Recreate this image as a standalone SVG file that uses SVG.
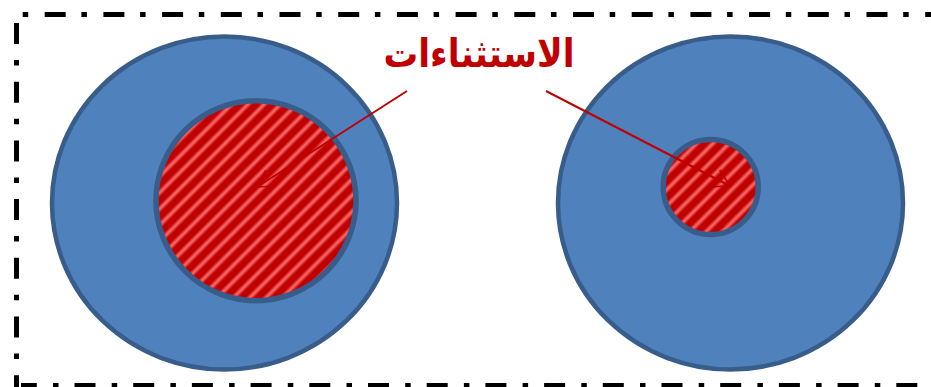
<svg xmlns="http://www.w3.org/2000/svg" width="931" height="387" viewBox="0 0 931 387">
  <style>
    .frame { fill: none; stroke: #000; stroke-width: 5; }
    .outer { fill: #4F81BD; stroke: #385D8A; stroke-width: 4.5; }
    .inner { fill: url(#hatch); stroke: #385D8A; stroke-width: 5.5; }
    .arrow { fill: none; stroke: #C00000; stroke-width: 2; marker-end: url(#head); }
    .label { font-family: "DejaVu Sans", sans-serif; font-weight: bold; font-size: 39px; fill: #C00000; }
  </style>
  <defs>
    <linearGradient id="stripe" x1="0" y1="0" x2="1" y2="0">
      <stop offset="0" stop-color="#C00000"/>
      <stop offset="0.38" stop-color="#C00000"/>
      <stop offset="0.66" stop-color="#FF7373"/>
      <stop offset="0.94" stop-color="#C00000"/>
      <stop offset="1" stop-color="#C00000"/>
    </linearGradient>
    <pattern id="hatch" patternUnits="userSpaceOnUse" width="11.5" height="11.5" patternTransform="rotate(45)">
      <rect x="0" y="0" width="11.5" height="11.5" fill="url(#stripe)"/>
    </pattern>
    <marker id="head" markerUnits="userSpaceOnUse" markerWidth="24" markerHeight="24" viewBox="-20 -12 24 24" refX="0" refY="0" orient="auto">
      <path d="M -16.5 -9.5 L 0 0 L -16.5 9.5" fill="none" stroke="#C00000" stroke-width="1.5"/>
    </marker>
  </defs>

  <g id="frame">
    <line class="frame" x1="16.5" y1="14.5" x2="940" y2="14.5" stroke-dasharray="5.5 16.5 21 15.7" stroke-dashoffset="52.5"/>
    <line class="frame" x1="16.5" y1="14.5" x2="16.5" y2="388" stroke-dasharray="21 16 5.5 16.2" stroke-dashoffset="50.2"/>
    <line class="frame" x1="21" y1="385.5" x2="940" y2="385.5" stroke-dasharray="21 16.2 5.5 16" stroke-dashoffset="5.2"/>
  </g>

  <g id="left-set">
    <ellipse class="outer" cx="224.5" cy="203" rx="172.5" ry="166.5"/>
  </g>
  <g id="left-exceptions">
    <circle class="inner" cx="256" cy="200.7" r="100"/>
  </g>

  <g id="right-set">
    <ellipse class="outer" cx="730.5" cy="203" rx="172.5" ry="166.5"/>
  </g>
  <g id="right-exceptions">
    <circle class="inner" cx="710.7" cy="187" r="47.5"/>
  </g>

  <g id="label">
    <text class="label" x="479" y="67" text-anchor="middle" textLength="191" lengthAdjust="spacingAndGlyphs">الاستثناءات</text>
  </g>

  <g id="connectors">
    <line class="arrow" x1="407" y1="91" x2="257" y2="187"/>
    <line class="arrow" x1="546" y1="91" x2="730" y2="186"/>
  </g>
</svg>
